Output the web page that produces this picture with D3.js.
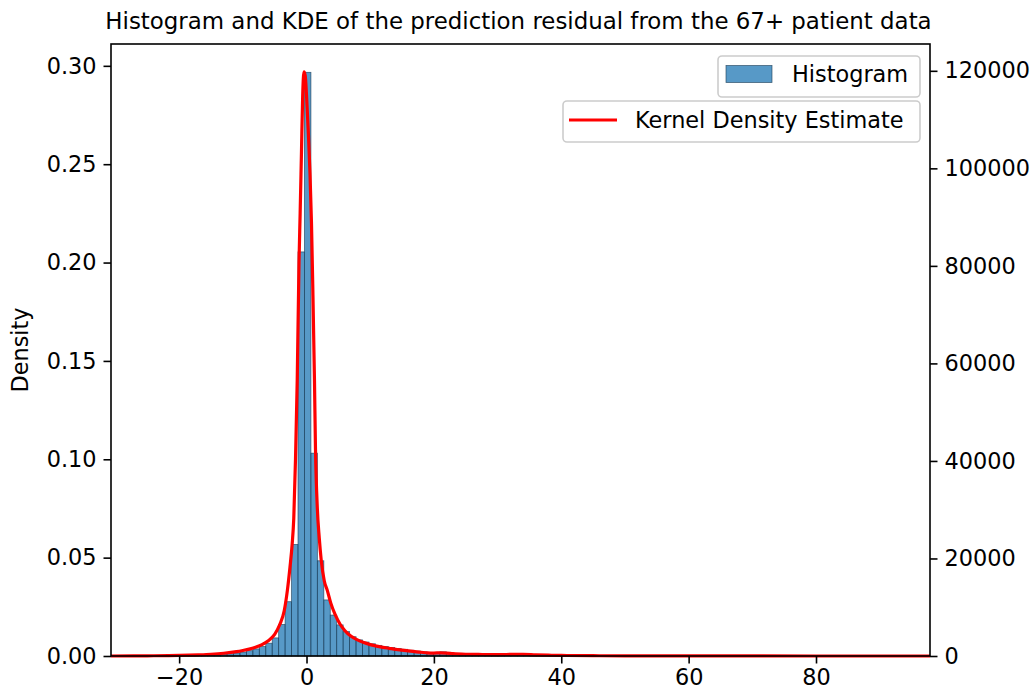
<!DOCTYPE html>
<html>
<head>
<meta charset="utf-8">
<script src="https://cdn.jsdelivr.net/npm/d3@7"></script>
<style>
  html, body { margin: 0; padding: 0; background: #fff; }
  svg { display: block; font-family: "DejaVu Sans", sans-serif; }
</style>
</head>
<body>
<svg id="chart" width="1036" height="698"></svg>
<script>
// ---------------- data ----------------
const titleText = "Histogram and KDE of the prediction residual from the 67+ patient data";
const xDomain = [-30.7, 97.9];
const binStart = -30.7;
const binWidth = 1.0126;
// density per bin (127 bins)
const histDensity = [
  0, 0, 0.00001, 0, 0.00002, 0.00003, 0.00003, 0.00005, 0.00006, 0.00008,
  0.0001, 0.00013, 0.00017, 0.00022, 0.0003, 0.0004, 0.0006, 0.0008, 0.0011, 0.0015,
  0.0020, 0.0027, 0.0036, 0.0048, 0.0065, 0.0092, 0.0160, 0.0276, 0.0567, 0.2054,
  0.2967, 0.1031, 0.0484, 0.0285, 0.0208, 0.0158, 0.0124, 0.0098, 0.0082, 0.0071,
  0.0062, 0.0054, 0.0048, 0.0043, 0.0038, 0.0034, 0.0029, 0.0025, 0.0021, 0.0017,
  0.0016, 0.0021, 0.0015, 0.0011, 0.0010, 0.0009, 0.0008, 0.0008, 0.0007, 0.0007,
  0.0006, 0.0006, 0.0006, 0.0013, 0.0008, 0.0004, 0.0003, 0.0003, 0.00025, 0.0002,
  0.0002, 0.00015, 0.00012, 0.0001, 0.0001, 0.00008, 0.00007, 0.00006, 0.00005, 0.00005,
  0.00004, 0.00003, 0.00004, 0.00003, 0.00002, 0.00003, 0.00002, 0.00002, 0.00001, 0.00002,
  0.00001, 0.00001, 0.00002, 0.00001, 0.00001, 0, 0.00001, 0.00001, 0, 0.00001,
  0, 0, 0.00001, 0, 0, 0, 0.00001, 0, 0, 0,
  0, 0.00001, 0, 0, 0, 0, 0, 0, 0.00001, 0,
  0, 0, 0, 0, 0, 0, 0.00001
];
// KDE curve points
const kdeX = [-30.7, -25, -20, -17, -15, -13, -11, -10, -9, -8, -7, -6, -5, -4.2, -3.5, -3.0, -2.6, -2.25, -2.0, -1.73,
  -1.46, -1.18, -1.0, -0.8, -0.6, -0.4, -0.2, 0.0, 0.3, 0.55, 0.78, 1.0, 1.25, 1.41, 1.7, 2.0, 2.3, 2.8, 3.25, 3.8,
  4.5, 5.3, 6.0, 7.0, 8.0, 9.0, 10, 11, 12, 13, 14, 15, 16, 17, 18, 19, 20, 21, 22, 23,
  25, 27, 30, 32, 34, 36, 38, 40, 45, 50, 60, 70, 80, 97.9];
const kdeY = [0, 0.0001, 0.0003, 0.0006, 0.0009, 0.0014, 0.0022, 0.0028, 0.0035, 0.0045, 0.0058, 0.0078, 0.011, 0.016, 0.023, 0.0335, 0.045, 0.057, 0.070, 0.100,
  0.140, 0.200, 0.225, 0.255, 0.285, 0.297, 0.295, 0.285, 0.265, 0.245, 0.220, 0.185, 0.140, 0.105, 0.075, 0.060, 0.049, 0.038, 0.0335, 0.027,
  0.021, 0.016, 0.013, 0.010, 0.0082, 0.0068, 0.0058, 0.0050, 0.0044, 0.0039, 0.0034, 0.0030, 0.0026, 0.0022, 0.0019, 0.0016, 0.0015, 0.0016, 0.0015, 0.0012,
  0.0009, 0.0008, 0.0007, 0.0008, 0.0009, 0.0006, 0.0004, 0.0003, 0.00015, 0.0001, 0.00005, 0.00002, 0.00001, 0];
const xTicks = [-20, 0, 20, 40, 60, 80];
const yLeftTicks = [0, 0.05, 0.10, 0.15, 0.20, 0.25, 0.30];
const yRightTicks = [0, 20000, 40000, 60000, 80000, 100000, 120000];
const yLeftDomain = [0, 0.3111];
const yRightDomain = [0, 125500];
const legendLabels = ["Histogram", "Kernel Density Estimate"];
const yLabel = "Density";

// ---------------- layout ----------------
const L = 111, R = 930, T = 44, B = 656;
const FS = 22.4;
const svg = d3.select("#chart");
svg.append("rect").attr("width", 1036).attr("height", 698).attr("fill", "#fff");

const x = d3.scaleLinear().domain(xDomain).range([L, R]);
const yL = d3.scaleLinear().domain(yLeftDomain).range([B, T]);
const yR = d3.scaleLinear().domain(yRightDomain).range([B, T]);

const bins = histDensity.map((d, i) => ({x0: binStart + i * binWidth, x1: binStart + (i + 1) * binWidth, v: d}));

const plot = svg.append("g");
plot.selectAll("rect.bar").data(bins).enter().append("rect")
  .attr("class", "bar")
  .attr("x", d => x(d.x0))
  .attr("width", d => x(d.x1) - x(d.x0))
  .attr("y", d => yL(d.v))
  .attr("height", d => B - yL(d.v))
  .attr("fill", "#1f77b4").attr("fill-opacity", 0.75)
  .attr("stroke", "#1b3c55").attr("stroke-opacity", 0.75).attr("stroke-width", 0.8);

const kdePts = kdeX.map((v, i) => [v, kdeY[i]]);
plot.append("path").datum(kdePts)
  .attr("d", d3.line().x(d => x(d[0])).y(d => yL(d[1])).curve(d3.curveMonotoneX))
  .attr("fill", "none").attr("stroke", "#ff0000").attr("stroke-width", 3.2)
  .attr("stroke-linejoin", "round").attr("stroke-linecap", "butt");

// axes
function styleAxis(g) {
  g.select(".domain").remove();
  g.selectAll(".tick line").attr("stroke", "#000").attr("stroke-width", 1.6);
  g.selectAll(".tick text").attr("fill", "#000").style("font-size", FS + "px").style("font-family", "DejaVu Sans");
}
const fmtX = d => (d < 0 ? "\u2212" + Math.abs(d) : String(d));
svg.append("g").attr("transform", `translate(0,${B})`)
  .call(d3.axisBottom(x).tickValues(xTicks).tickFormat(fmtX).tickSize(7.5).tickPadding(6))
  .call(styleAxis);
svg.append("g").attr("transform", `translate(${L},0)`)
  .call(d3.axisLeft(yL).tickValues(yLeftTicks).tickFormat(d3.format(".2f")).tickSize(7.5).tickPadding(7))
  .call(styleAxis);
svg.append("g").attr("transform", `translate(${R},0)`)
  .call(d3.axisRight(yR).tickValues(yRightTicks).tickFormat(d3.format("d")).tickSize(7.5).tickPadding(7))
  .call(styleAxis);

// spines
svg.append("rect").attr("x", L).attr("y", T).attr("width", R - L).attr("height", B - T)
  .attr("fill", "none").attr("stroke", "#000").attr("stroke-width", 1.6);

// title
svg.append("text").attr("x", 518.5).attr("y", 29).attr("text-anchor", "middle")
  .style("font-size", "22.9px").attr("fill", "#000").text(titleText);

// y label
svg.append("text").attr("transform", `translate(28,${(T + B) / 2}) rotate(-90)`)
  .attr("text-anchor", "middle").style("font-size", FS + "px").attr("fill", "#000").text(yLabel);

// legends
const lg1 = svg.append("g");
lg1.append("rect").attr("x", 718).attr("y", 56).attr("width", 202).attr("height", 41)
  .attr("rx", 4).attr("fill", "#fff").attr("fill-opacity", 0.8).attr("stroke", "#cccccc").attr("stroke-width", 1.6);
lg1.append("rect").attr("x", 726).attr("y", 65.5).attr("width", 46).attr("height", 17)
  .attr("fill", "#1f77b4").attr("fill-opacity", 0.75).attr("stroke", "#1b3c55").attr("stroke-opacity", 0.75).attr("stroke-width", 0.8);
lg1.append("text").attr("x", 792).attr("y", 82).style("font-size", FS + "px").attr("fill", "#000").text(legendLabels[0]);

const lg2 = svg.append("g");
lg2.append("rect").attr("x", 563).attr("y", 101).attr("width", 357).attr("height", 41)
  .attr("rx", 4).attr("fill", "#fff").attr("fill-opacity", 0.8).attr("stroke", "#cccccc").attr("stroke-width", 1.6);
lg2.append("line").attr("x1", 569).attr("x2", 617).attr("y1", 120).attr("y2", 120)
  .attr("stroke", "#ff0000").attr("stroke-width", 3.2);
lg2.append("text").attr("x", 635).attr("y", 128).style("font-size", FS + "px").attr("fill", "#000").text(legendLabels[1]);
</script>
</body>
</html>
